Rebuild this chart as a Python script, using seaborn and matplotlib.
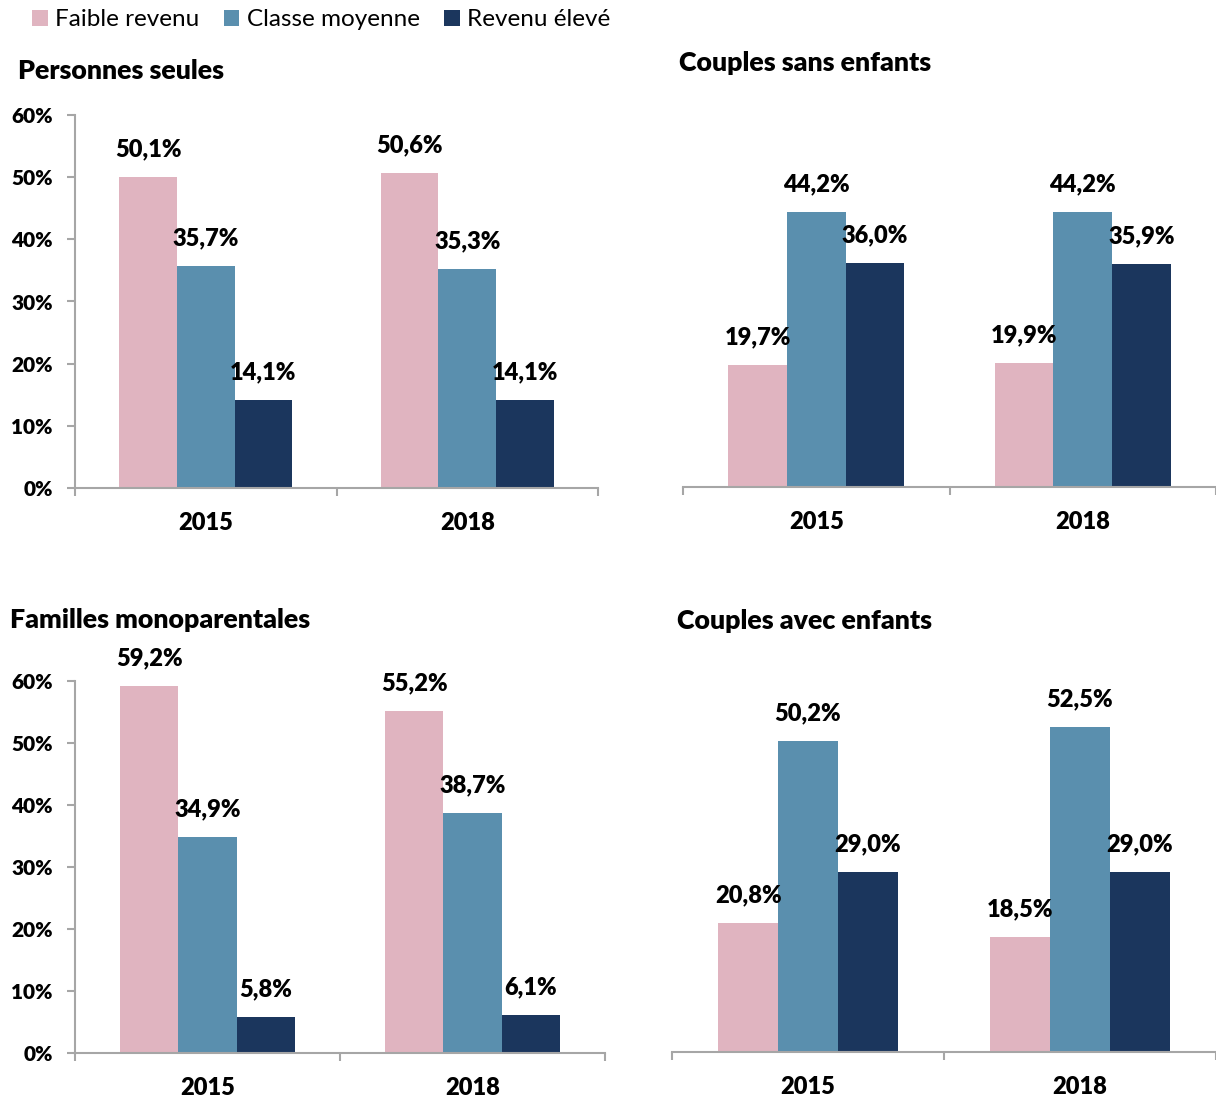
import matplotlib
matplotlib.use('Agg')
import matplotlib.pyplot as plt
import seaborn as sns
import pandas as pd
from matplotlib.patches import Patch

years = ['2015', '2018']
groups = ['Faible revenu', 'Classe moyenne', 'Revenu élevé']
colors = ['#E0B4C0', '#5A8FAE', '#1B365D']

# Personnes seules
ps_faible = [50.1, 50.6]
ps_moyenne = [35.7, 35.3]
ps_eleve = [14.1, 14.1]
# Couples sans enfants
cse_faible = [19.7, 19.9]
cse_moyenne = [44.2, 44.2]
cse_eleve = [36.0, 35.9]
# Familles monoparentales
fm_faible = [59.2, 55.2]
fm_moyenne = [34.9, 38.7]
fm_eleve = [5.8, 6.1]
# Couples avec enfants
cae_faible = [20.8, 18.5]
cae_moyenne = [50.2, 52.5]
cae_eleve = [29.0, 29.0]

titles = ['Personnes seules', 'Couples sans enfants',
          'Familles monoparentales', 'Couples avec enfants']
yticks = [0, 10, 20, 30, 40, 50, 60]

sns.set_style('white')
plt.rcParams['font.family'] = ['Lato', 'DejaVu Sans']
plt.rcParams['text.color'] = 'black'
plt.rcParams['xtick.labelcolor'] = 'black'
plt.rcParams['ytick.labelcolor'] = 'black'

W, H = 1216, 1099
fig = plt.figure(figsize=(W / 100, H / 100), dpi=100)

SPINE = '#A6A6A6'
BOLD = 'heavy'


def px_axes(left, right, bottom, top):
    return fig.add_axes([left / W, 1 - bottom / H, (right - left) / W, (bottom - top) / H])


def draw(ax, faible, moyenne, eleve, show_y, xmax):
    df = pd.DataFrame({
        'year': years * 3,
        'income': [g for g in groups for _ in years],
        'value': faible + moyenne + eleve,
    })
    sns.barplot(data=df, x='year', y='value', hue='income', hue_order=groups,
                palette=colors, width=0.66, saturation=1, edgecolor='none',
                linewidth=0, ax=ax, legend=False)
    for c in ax.containers:
        labels = [f"{v:.1f}%".replace('.', ',') for v in c.datavalues]
        ax.bar_label(c, labels=labels, padding=12, fontsize=17, fontweight=BOLD, color='black')
    ax.set_ylim(0, 60)
    ax.set_xlim(-0.5, xmax)
    ax.set_xlabel('')
    ax.set_ylabel('')
    ax.spines['top'].set_visible(False)
    ax.spines['right'].set_visible(False)
    ax.spines['bottom'].set_color(SPINE)
    ax.spines['bottom'].set_linewidth(1.5)
    ax.set_xticks([0, 1])
    ax.set_xticklabels(years, fontsize=17, fontweight=BOLD, color='black')
    ax.set_xticks([-0.5, 0.5, 1.5], minor=True)
    ax.tick_params(axis='x', which='major', length=0, pad=17)
    ax.tick_params(axis='x', which='minor', length=6, width=1.5, color=SPINE, direction='out', bottom=True)
    if show_y:
        ax.spines['left'].set_color(SPINE)
        ax.spines['left'].set_linewidth(1.5)
        ax.set_yticks(yticks)
        ax.set_yticklabels([f"{t}%" for t in yticks], fontsize=15, fontweight=BOLD, color='black')
        ax.tick_params(axis='y', length=6, width=1.5, color=SPINE, direction='out', left=True, pad=10)
    else:
        ax.spines['left'].set_visible(False)
        ax.set_yticks([])
    ax.set_facecolor('none')


ax1 = px_axes(75, 598, 488, 115)
draw(ax1, ps_faible, ps_moyenne, ps_eleve, True, 1.5)
ax2 = px_axes(683, 1216, 487, 114)
draw(ax2, cse_faible, cse_moyenne, cse_eleve, False, -0.5 + 533 / 272)
ax3 = px_axes(75, 605, 1053, 681)
draw(ax3, fm_faible, fm_moyenne, fm_eleve, True, 1.5)
ax4 = px_axes(672, 1216, 1052, 680)
draw(ax4, cae_faible, cae_moyenne, cae_eleve, False, 1.5)

fig.text(18 / W, 1 - 71 / H, titles[0], fontsize=19.3, fontweight=BOLD, va='center', color='black')
fig.text(679 / W, 1 - 63 / H, titles[1], fontsize=19.3, fontweight=BOLD, va='center', color='black')
fig.text(10 / W, 1 - 620 / H, titles[2], fontsize=19.3, fontweight=BOLD, va='center', color='black')
fig.text(677 / W, 1 - 621 / H, titles[3], fontsize=19.3, fontweight=BOLD, va='center', color='black')

handles = [Patch(facecolor=c, edgecolor='none', label=g) for c, g in zip(colors, groups)]
leg = fig.legend(handles=handles, loc='center left', bbox_to_anchor=(32 / W, 1 - 20 / H),
                 ncol=3, frameon=False, fontsize=17.5, handlelength=0.65, handleheight=0.65,
                 handletextpad=0.3, columnspacing=1.0, borderpad=0, borderaxespad=0)
for t in leg.get_texts():
    t.set_color('black')

fig.savefig('out.png', dpi=100)
